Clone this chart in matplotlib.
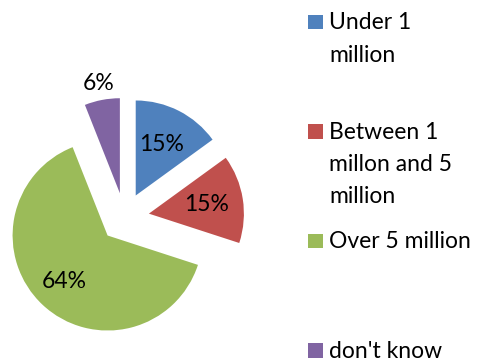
import matplotlib
matplotlib.use("Agg")
import matplotlib.pyplot as plt
import numpy as np
from matplotlib.patches import Rectangle

# Survey answers and their shares (percent)
categories = ["Under 1\nmillion", "Between 1\nmillon and 5\nmillion", "Over 5 million", "don't know"]
shares = [15, 15, 64, 6]
colors = ["#4F81BD", "#C0504D", "#9BBB59", "#8064A2"]

FONT = "Lato"
FS = 16.5

W, H = 481, 360
fig = plt.figure(figsize=(W / 100, H / 100), dpi=100)
fig.patch.set_facecolor("white")

# Pie geometry in pixels (origin top-left)
R = 95.0
cx, cy = 124.5, 217.5
ax = fig.add_axes([0, 0, 1, 1])

wedges, texts, autotexts = ax.pie(
    shares,
    colors=colors,
    explode=[0.26] * len(shares),
    startangle=90,
    counterclock=False,
    autopct="%d%%",
    pctdistance=0.6,
    textprops=dict(fontsize=FS, family=FONT, color="black"),
    wedgeprops=dict(linewidth=0),
)
ax.set_xlim(-cx / R, (W - cx) / R)
ax.set_ylim(-(H - cy) / R, cy / R)
ax.axis("off")

# Radial placement of each percentage label (relative to wedge radius)
label_dist = [0.6, 0.61, 0.66, 1.18]
for w, t, d in zip(wedges, autotexts, label_dist):
    mid = np.deg2rad((w.theta1 + w.theta2) / 2)
    x0, y0 = w.center
    t.set_position((x0 + d * np.cos(mid), y0 + d * np.sin(mid)))
    t.set_ha("center")
    t.set_va("center")

# Legend on the right: colour square plus wrapped label lines
first_base = 29.3
entry_step = 109.4
line_step = 32.3
sq = 14.5
for i, (lab, col) in enumerate(zip(categories, colors)):
    base = first_base + i * entry_step
    fig.add_artist(Rectangle((308.3 / W, 1 - base / H), sq / W, sq / H,
                             transform=fig.transFigure, facecolor=col,
                             edgecolor="none"))
    for j, line in enumerate(lab.split("\n")):
        fig.text(329.3 / W, 1 - (base + j * line_step) / H, line,
                 fontsize=FS, family=FONT, color="black",
                 ha="left", va="baseline")

fig.savefig("out.png", dpi=100, facecolor="white")
